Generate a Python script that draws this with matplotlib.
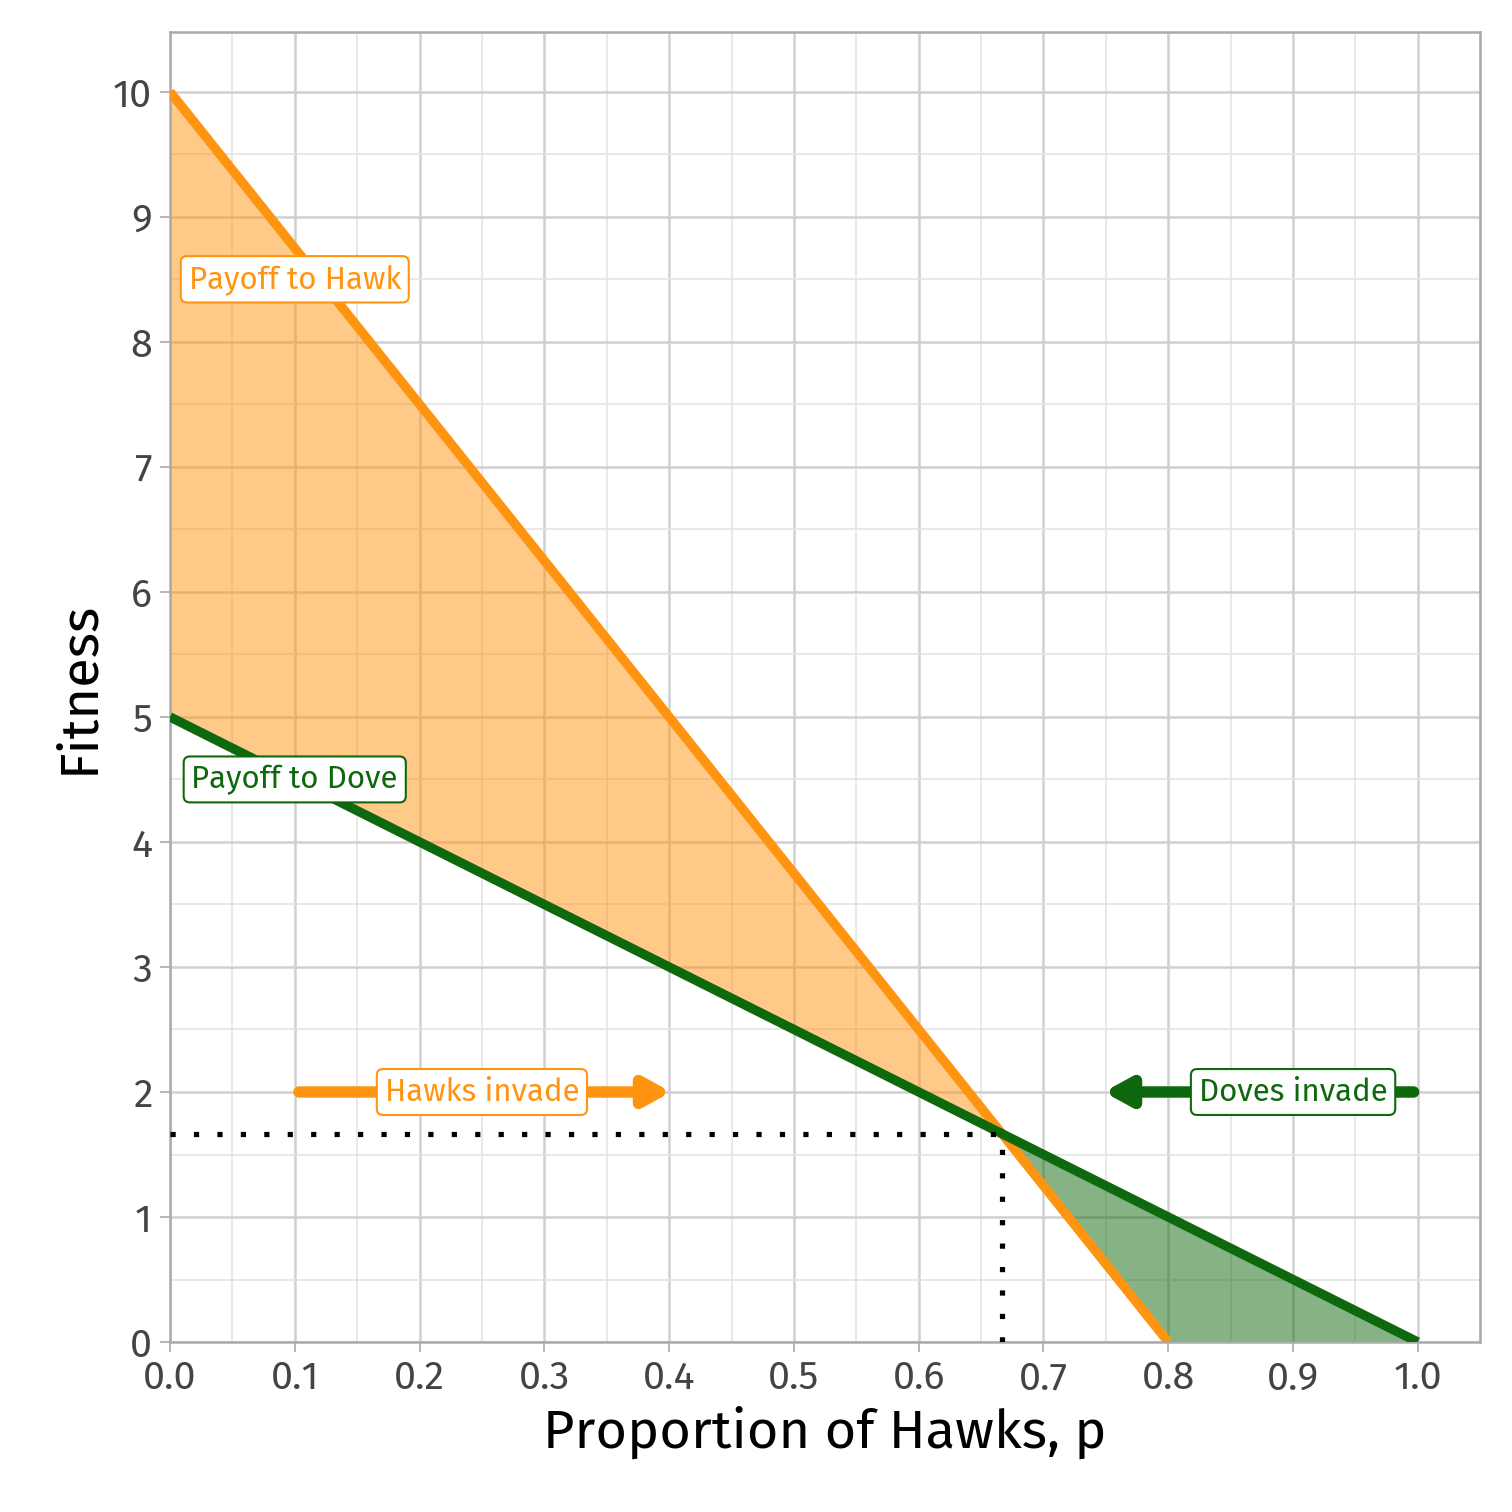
import numpy as np
import matplotlib.pyplot as plt
from matplotlib.ticker import MultipleLocator

plt.rcParams['font.family'] = ['Fira Sans', 'Open Sans', 'DejaVu Sans']

# payoff lines
p_hawk = [0.0, 0.8]
w_hawk = [10.0, 0.0]
p_dove = [0.0, 1.0]
w_dove = [5.0, 0.0]
p_eq = 2 / 3
w_eq = 5 / 3

orange = "#FF9410"
green = "#0E690E"

fig = plt.figure(figsize=(10.08, 10.08), dpi=150)
ax = fig.add_axes([0.1124, 0.1124, 0.8666, 0.8666])

p = np.linspace(0, 1, 601)
hawk = np.interp(p, p_hawk, w_hawk, right=0.0)
dove = np.interp(p, p_dove, w_dove)
ax.fill_between(p, dove, hawk, where=p <= p_eq + 1e-9, color=orange, alpha=0.5, lw=0, zorder=2)
ax.fill_between(p, hawk, dove, where=p >= p_eq - 1e-9, color=green, alpha=0.5, lw=0, zorder=2)

ax.plot(p_hawk, w_hawk, color=orange, lw=4.5, zorder=3, solid_capstyle="butt")
ax.plot(p_dove, w_dove, color=green, lw=4.5, zorder=4, solid_capstyle="butt")

ax.plot([0, p_eq], [w_eq, w_eq], color="black", lw=2.5, ls=(0, (1, 3.5)), zorder=5)
ax.plot([p_eq, p_eq], [0, w_eq], color="black", lw=2.5, ls=(0, (1, 3.5)), zorder=5)

# invasion arrows
ax.annotate("", xy=(0.405, 2), xytext=(0.1, 2),
            arrowprops=dict(arrowstyle="-|>,head_length=1.0,head_width=0.55", color=orange, lw=5.5), zorder=5)
ax.annotate("", xy=(0.745, 2), xytext=(1.0, 2),
            arrowprops=dict(arrowstyle="-|>,head_length=1.0,head_width=0.55", color=green, lw=5.5), zorder=5)

def label(x, y, s, c):
    ax.text(x, y, s, color=c, fontsize=15, ha="center", va="center", zorder=6,
            bbox=dict(boxstyle="round,pad=0.25,rounding_size=0.2", fc="white", ec=c, lw=1))

label(0.1, 8.5, "Payoff to Hawk", orange)
label(0.1, 4.5, "Payoff to Dove", green)
label(0.25, 2, "Hawks invade", orange)
label(0.9, 2, "Doves invade", green)

ax.set_xlim(0, 1.05)
ax.set_ylim(0, 10.48)
ax.xaxis.set_major_locator(MultipleLocator(0.1))
ax.xaxis.set_minor_locator(MultipleLocator(0.05))
ax.yaxis.set_major_locator(MultipleLocator(1))
ax.yaxis.set_minor_locator(MultipleLocator(0.5))
ax.set_xticklabels([f"{v:.1f}" if 0 <= v <= 1.0001 else "" for v in ax.get_xticks()])
ax.grid(which="major", color="#d0d0d0", lw=1.2, zorder=0)
ax.grid(which="minor", color="#e4e4e4", lw=0.8, zorder=0)
ax.set_axisbelow(True)
for s in ax.spines.values():
    s.set_color("#aaaaaa")
    s.set_linewidth(1.2)
ax.tick_params(which="both", length=5, color="#aaaaaa", labelsize=19, labelcolor="#444444")
ax.tick_params(which="minor", length=0)
ax.set_xlabel("Proportion of Hawks, p", fontsize=26)
ax.set_ylabel("Fitness", fontsize=26)

fig.savefig("out.png", dpi=150)
